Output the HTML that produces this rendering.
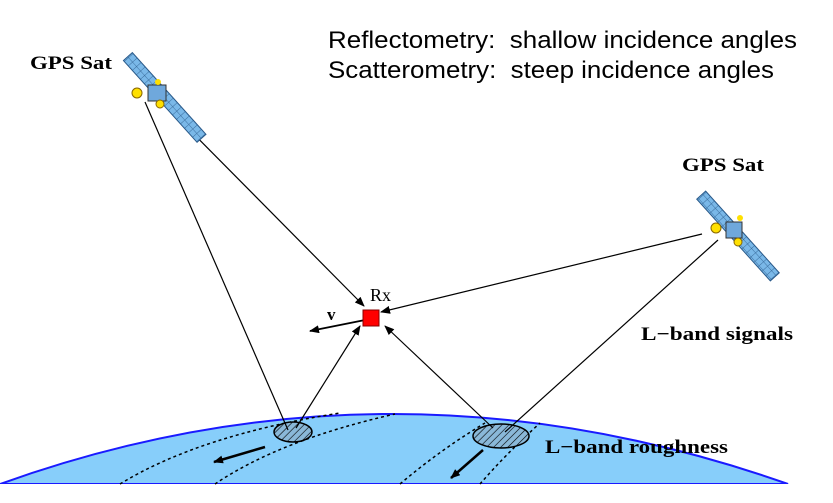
<!DOCTYPE html>
<html><head><meta charset="utf-8"><style>
html,body{margin:0;padding:0;background:#fff;}
svg{display:block;}
</style></head><body>
<svg width="833" height="503" viewBox="0 0 833 503" xmlns="http://www.w3.org/2000/svg">
<defs>
<marker id="ah" markerWidth="10" markerHeight="8" refX="9" refY="4" orient="auto" markerUnits="userSpaceOnUse"><path d="M0,0 L10,4 L0,8 z" fill="#000"/></marker>
<pattern id="hatch" width="5" height="5" patternUnits="userSpaceOnUse" patternTransform="rotate(45)"><rect width="5" height="5" fill="#8ab8d8"/><line x1="0" y1="0" x2="0" y2="5" stroke="#000" stroke-width="1.2"/></pattern>
<pattern id="cells" width="6" height="6" patternUnits="userSpaceOnUse"><rect width="6" height="6" fill="#7ab8e8"/><path d="M0,0 L6,0 M0,0 L0,6" stroke="#2a5a8a" stroke-width="0.8"/></pattern>
</defs>
<path d="M0,484 Q390,344 788,484 Z" fill="#87cefa" stroke="#1a1aff" stroke-width="2"/>
<rect x="0" y="484" width="833" height="19" fill="#fff"/>
<g fill="none" stroke="#000" stroke-width="1.5" stroke-dasharray="3,3">
<path d="M120,484 Q200,435 340,413"/>
<path d="M215,484 Q280,440 395,414"/>
<path d="M400,484 Q440,450 485,423"/>
<path d="M480,484 Q505,455 540,423"/>
</g>
<ellipse cx="293" cy="432" rx="19" ry="10" fill="url(#hatch)" stroke="#000" stroke-width="1.5"/>
<ellipse cx="501" cy="436" rx="28" ry="12" fill="url(#hatch)" stroke="#000" stroke-width="1.5"/>
<line x1="265" y1="447" x2="214" y2="462" stroke="#000" stroke-width="2.5" marker-end="url(#ah)"/>
<line x1="483" y1="450" x2="451" y2="478" stroke="#000" stroke-width="2.5" marker-end="url(#ah)"/>
<g stroke="#000" stroke-width="1.2" fill="none">
<line x1="145" y1="102" x2="288" y2="430"/>
<line x1="165" y1="105" x2="364" y2="306" marker-end="url(#ah)"/>
<line x1="702" y1="234" x2="381" y2="312" marker-end="url(#ah)"/>
<line x1="718" y1="240" x2="505" y2="432"/>
<line x1="296" y1="428" x2="360" y2="326" marker-end="url(#ah)"/>
<line x1="493" y1="428" x2="385" y2="326" marker-end="url(#ah)"/>
<line x1="365" y1="320" x2="310" y2="331" stroke-width="1.8" marker-end="url(#ah)"/>
</g>
<rect x="363" y="310" width="16" height="16" fill="#ff0000" stroke="#800" stroke-width="1"/>
<text x="370" y="301" font-family="Liberation Serif, serif" font-size="18">Rx</text>
<text x="327" y="320" font-family="Liberation Serif, serif" font-size="17" font-weight="bold">v</text>
<g>
<rect x="113" y="84" width="110" height="12" transform="rotate(48 158 90)" fill="url(#cells)" stroke="#2a5a8a"/>
<rect x="148" y="85" width="18" height="16" fill="#6fa8dc" stroke="#333"/>
<circle cx="137" cy="93" r="5" fill="#ffe000" stroke="#886600"/>
<circle cx="160" cy="104" r="4" fill="#ffe000" stroke="#886600"/>
<circle cx="158" cy="82" r="3" fill="#ffe000"/>
</g>
<g>
<rect x="683" y="230" width="110" height="12" transform="rotate(48 738 236)" fill="url(#cells)" stroke="#2a5a8a"/>
<rect x="726" y="222" width="16" height="16" fill="#6fa8dc" stroke="#333"/>
<circle cx="716" cy="228" r="5" fill="#ffe000" stroke="#886600"/>
<circle cx="738" cy="242" r="4" fill="#ffe000" stroke="#886600"/>
<circle cx="740" cy="218" r="3" fill="#ffe000"/>
</g>
<text x="30" y="69" font-family="Liberation Serif, serif" font-size="19" font-weight="bold" textLength="82" lengthAdjust="spacingAndGlyphs">GPS Sat</text>
<text x="682" y="171" font-family="Liberation Serif, serif" font-size="19" font-weight="bold" textLength="82" lengthAdjust="spacingAndGlyphs">GPS Sat</text>
<text x="641" y="340" font-family="Liberation Serif, serif" font-size="19" font-weight="bold" textLength="152" lengthAdjust="spacingAndGlyphs">L−band signals</text>
<text x="545" y="453" font-family="Liberation Serif, serif" font-size="19" font-weight="bold" textLength="183" lengthAdjust="spacingAndGlyphs">L−band roughness</text>
<text x="328" y="48" font-family="Liberation Sans, sans-serif" font-size="24" xml:space="preserve" textLength="469" lengthAdjust="spacingAndGlyphs">Reflectometry:  shallow incidence angles</text>
<text x="328" y="78" font-family="Liberation Sans, sans-serif" font-size="24" xml:space="preserve" textLength="446" lengthAdjust="spacingAndGlyphs">Scatterometry:  steep incidence angles</text>
</svg>
</body></html>
